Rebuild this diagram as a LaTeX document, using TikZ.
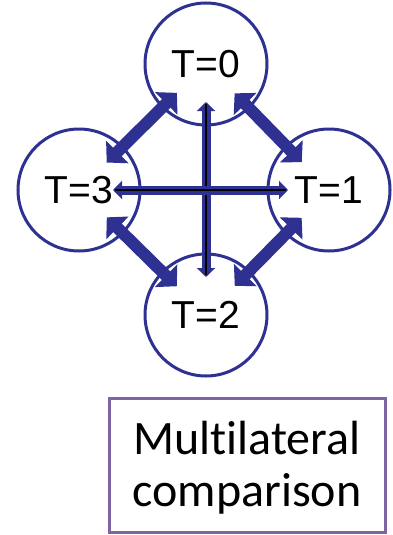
\documentclass[tikz,border=0pt]{standalone}
\usepackage{fontspec}
\setmainfont{Liberation Sans}
\newfontfamily\calib[Ligatures=NoCommon]{Carlito}
\usetikzlibrary{arrows.meta}
\definecolor{nodeblue}{RGB}{46,49,146}
\definecolor{boxpurple}{RGB}{128,100,162}
\tikzset{
  tnode/.style={circle, draw=nodeblue, line width=3pt, fill=white, minimum size=122pt, inner sep=0pt, font=\fontsize{39}{39}\selectfont, text=black},
  fatarrow/.style={draw=nodeblue, line width=12pt, {Triangle[width=31pt,length=15pt]}-{Triangle[width=31pt,length=15pt]}},
  thinarrow/.style={draw=nodeblue, line width=9pt, {Triangle[width=18pt,length=9pt]}-{Triangle[width=18pt,length=9pt]}},
  coreline/.style={draw=black, line width=2.4pt},
  labelbox/.style={draw=boxpurple, line width=3pt, minimum width=276pt, minimum height=134pt},
  boxtext/.style={align=center, font=\calib\fontsize{48}{52}\selectfont}
}
\begin{document}
\begin{tikzpicture}[x=1pt, y=-1pt]
\useasboundingbox (0,0) rectangle (393,535);
\node[tnode] (t0) at (206,64) {T=0};
\node[tnode] (t1) at (329,190) {T=1};
\node[tnode] (t2) at (206,315) {T=2};
\node[tnode] (t3) at (79,190) {T=3};
% diagonal arrows
\draw[fatarrow, shorten <=41pt, shorten >=39pt] (t0.center) -- (t3.center);
\draw[fatarrow, shorten <=41pt, shorten >=39pt] (t0.center) -- (t1.center);
\draw[fatarrow, shorten <=39pt, shorten >=41pt] (t3.center) -- (t2.center);
\draw[fatarrow, shorten <=39pt, shorten >=41pt] (t1.center) -- (t2.center);
% cross arrows
\draw[thinarrow, shorten <=38pt, shorten >=38pt] (t0.center) -- (t2.center);
\draw[coreline, shorten <=40pt, shorten >=40pt] (t0.center) -- (t2.center);
\draw[thinarrow, shorten <=34pt, shorten >=41pt] (t3.center) -- (t1.center);
\draw[coreline, shorten <=36pt, shorten >=43pt] (t3.center) -- (t1.center);
% box
\node[labelbox] (box) at (247,465) {};
\node[boxtext] (boxlabel) at ([yshift=-3pt]box.center) {Multilateral\\comparison};
\end{tikzpicture}
\end{document}
